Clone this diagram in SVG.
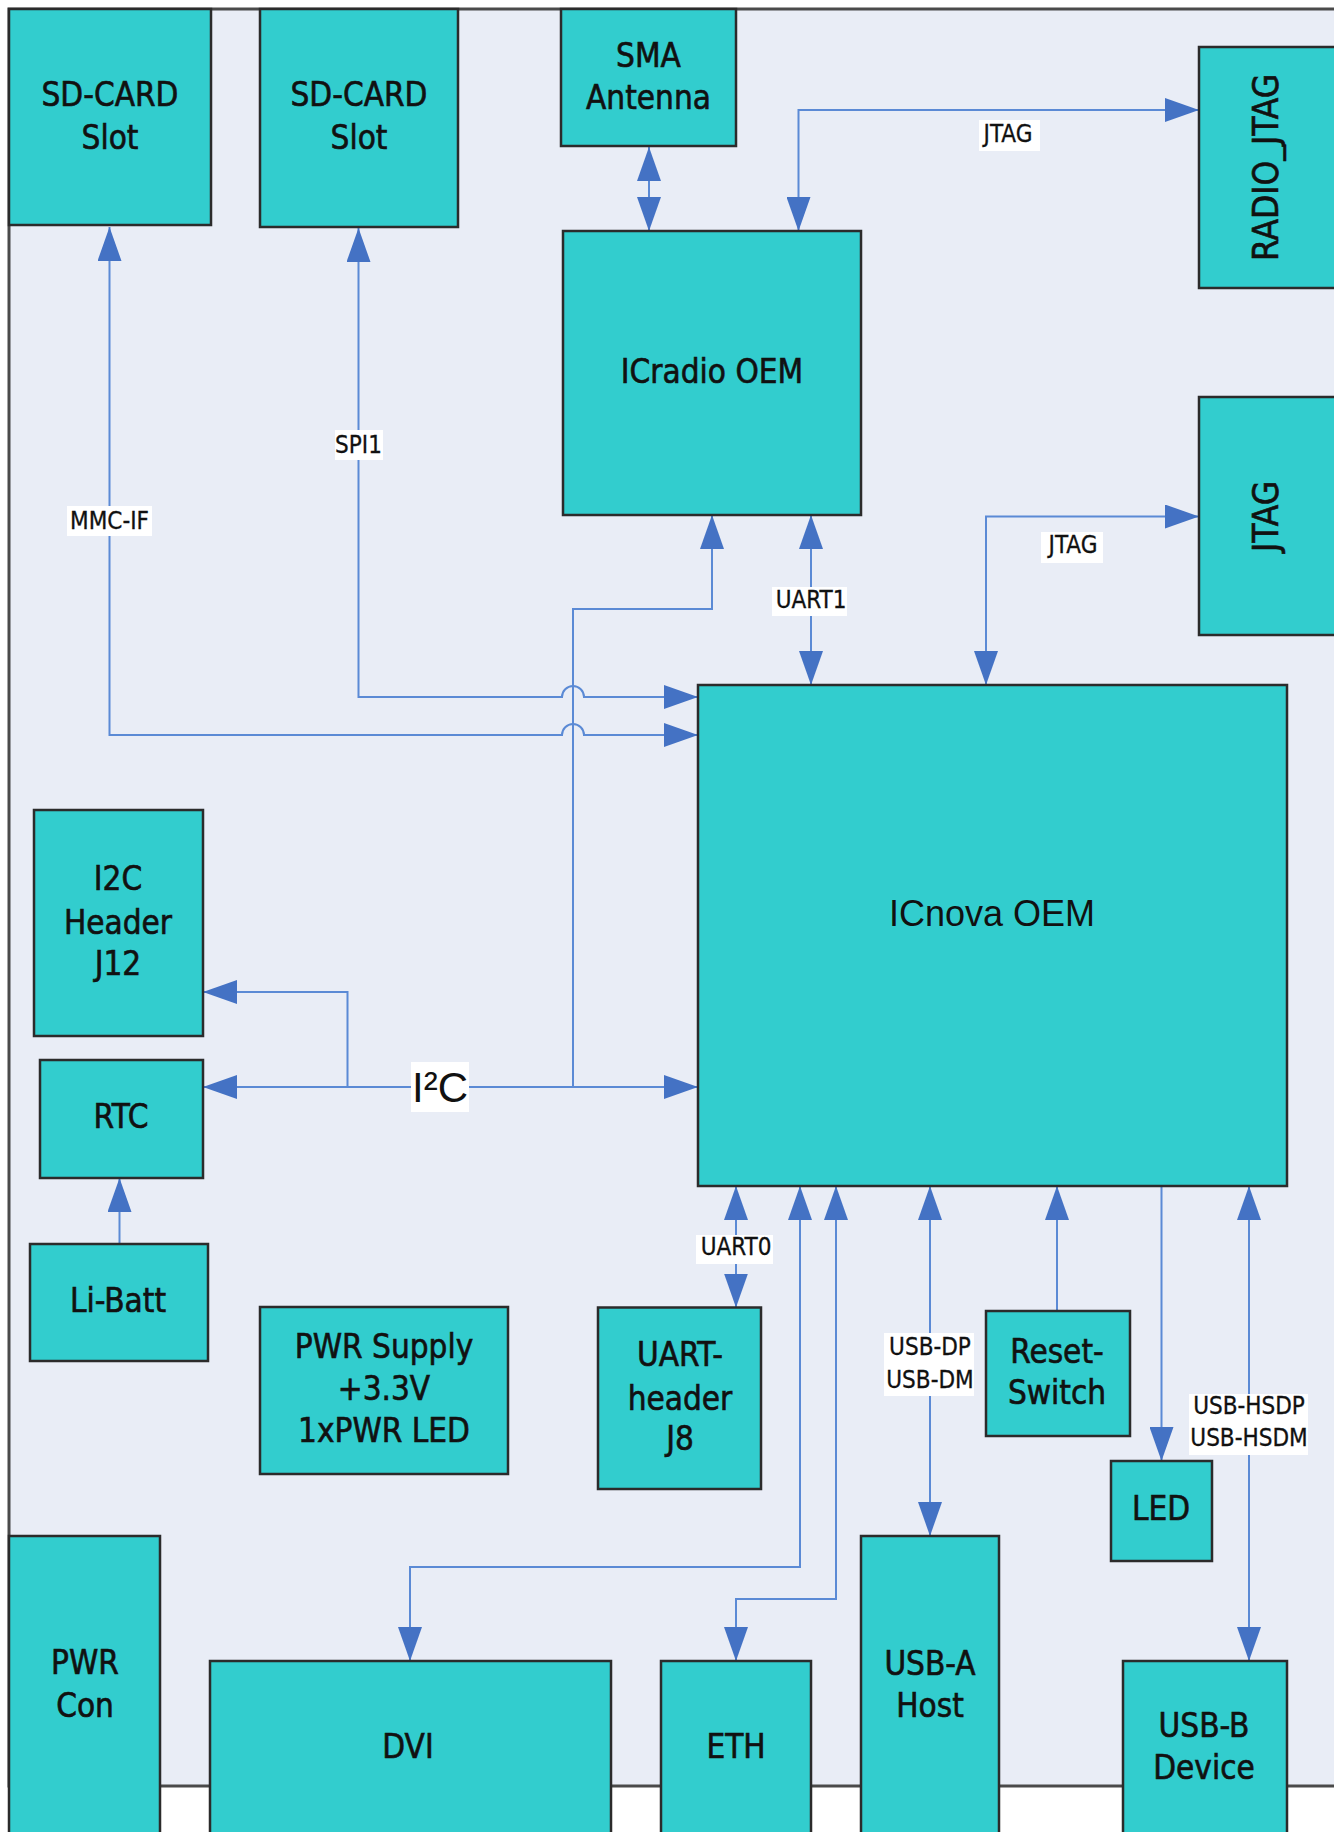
<svg xmlns="http://www.w3.org/2000/svg" width="1334" height="1832" viewBox="0 0 1334 1832">
<style>
.box{fill:#32CDCE;stroke:#2b2b2b;stroke-width:2.5}
.t{font-family:"DejaVu Sans Condensed","DejaVu Sans",sans-serif;font-stretch:condensed;font-size:33px;text-anchor:middle;fill:#111;stroke:#111;stroke-width:0.6}
.r{font-size:35px}
.a{font-family:"Liberation Sans",Arial,sans-serif;font-size:36px;text-anchor:middle;fill:#111}
.c{fill:none;stroke:#5B8AD5;stroke-width:2}
.lb{fill:#fff}
.l{font-family:"DejaVu Sans Condensed","DejaVu Sans",sans-serif;font-stretch:condensed;font-size:24px;text-anchor:middle;fill:#111;stroke:#111;stroke-width:0.3}
.i2c{font-family:"Liberation Sans",Arial,sans-serif;font-size:42px;text-anchor:middle;fill:#111}
</style>
<defs>
<marker id="ah" markerUnits="userSpaceOnUse" markerWidth="34" markerHeight="24" refX="34" refY="12" orient="auto-start-reverse" viewBox="0 0 34 24">
<path d="M0,0 L34,12 L0,24 z" fill="#4472C4"/>
</marker>
</defs>
<rect x="0" y="0" width="1334" height="1832" fill="#fff"/>
<rect x="9" y="9" width="1400" height="1777" fill="#E9EDF6" stroke="#4a4a4a" stroke-width="3"/>

<g id="connectors">
<path class="c" d="M109.5 227 L109.5 735 L562 735 A11 11 0 0 1 584 735 L698 735" marker-start="url(#ah)" marker-end="url(#ah)"/>
<path class="c" d="M358.5 228 L358.5 697 L562 697 A11 11 0 0 1 584 697 L698 697" marker-start="url(#ah)" marker-end="url(#ah)"/>
<path class="c" d="M203 1087 L698 1087" marker-start="url(#ah)" marker-end="url(#ah)"/>
<path class="c" d="M347.5 1087 L347.5 992 L203 992" marker-end="url(#ah)"/>
<path class="c" d="M573 1087 L573 609 L712 609 L712 515" marker-end="url(#ah)"/>
<path class="c" d="M811 515 L811 685" marker-start="url(#ah)" marker-end="url(#ah)"/>
<path class="c" d="M986 685 L986 516.5 L1199 516.5" marker-start="url(#ah)" marker-end="url(#ah)"/>
<path class="c" d="M798.5 231 L798.5 110 L1199 110" marker-start="url(#ah)" marker-end="url(#ah)"/>
<path class="c" d="M649 147 L649 231" marker-start="url(#ah)" marker-end="url(#ah)"/>
<path class="c" d="M119.5 1244 L119.5 1178" marker-end="url(#ah)"/>
<path class="c" d="M736 1186 L736 1307.5" marker-start="url(#ah)" marker-end="url(#ah)"/>
<path class="c" d="M800 1186 L800 1567 L410 1567 L410 1661" marker-start="url(#ah)" marker-end="url(#ah)"/>
<path class="c" d="M836 1186 L836 1599 L736 1599 L736 1661" marker-start="url(#ah)" marker-end="url(#ah)"/>
<path class="c" d="M930 1186 L930 1536" marker-start="url(#ah)" marker-end="url(#ah)"/>
<path class="c" d="M1057 1311 L1057 1186" marker-end="url(#ah)"/>
<path class="c" d="M1161.5 1186 L1161.5 1461" marker-end="url(#ah)"/>
<path class="c" d="M1249 1186 L1249 1661" marker-start="url(#ah)" marker-end="url(#ah)"/>

<rect class="lb" x="67" y="506" width="85" height="30"/>
<text class="l" x="109.5" y="529">MMC-IF</text>
<rect class="lb" x="335" y="430" width="48" height="30"/>
<text class="l" x="358.5" y="453">SPI1</text>
<rect class="lb" x="979" y="120" width="61" height="31"/>
<text class="l" x="1008" y="141.5">JTAG</text>
<rect class="lb" x="1041" y="532" width="62" height="31"/>
<text class="l" x="1073" y="553">JTAG</text>
<rect class="lb" x="772" y="587" width="75" height="29"/>
<text class="l" x="811" y="608">UART1</text>
<rect class="lb" x="411" y="1062" width="58" height="50"/>
<text class="i2c" x="440" y="1102">I²C</text>
<rect class="lb" x="696" y="1235" width="77" height="29"/>
<text class="l" x="736" y="1255">UART0</text>
<rect class="lb" x="884" y="1333" width="90" height="63"/>
<text class="l" x="930" y="1355">USB-DP</text>
<text class="l" x="930" y="1388">USB-DM</text>
<rect class="lb" x="1189" y="1394" width="119" height="61"/>
<text class="l" x="1249" y="1414">USB-HSDP</text>
<text class="l" x="1249" y="1446">USB-HSDM</text>
</g>

<g id="sdcard1"><rect class="box" x="9" y="9" width="202" height="216"/>
<text class="t" x="110" y="105.5">SD-CARD</text><text class="t" x="110" y="149">Slot</text></g>
<g id="sdcard2"><rect class="box" x="260" y="9" width="198" height="218"/>
<text class="t" x="359" y="105.5">SD-CARD</text><text class="t" x="359" y="149">Slot</text></g>
<g id="sma"><rect class="box" x="561" y="9" width="175" height="137"/>
<text class="t" x="648.5" y="67">SMA</text><text class="t" x="648.5" y="109">Antenna</text></g>
<g id="icradio"><rect class="box" x="563" y="231" width="298" height="284"/>
<text class="t" x="712" y="382.5">ICradio OEM</text></g>
<g id="radiojtag"><rect class="box" x="1199" y="47" width="200" height="241"/>
<text class="t r" transform="translate(1277.5 167.5) rotate(-90)">RADIO_JTAG</text></g>
<g id="jtag"><rect class="box" x="1199" y="397" width="200" height="238"/>
<text class="t r" transform="translate(1277.5 516.5) rotate(-90)">JTAG</text></g>
<g id="icnova"><rect class="box" x="698" y="685" width="589" height="501"/>
<text class="a" x="992" y="926">ICnova OEM</text></g>
<g id="i2cheader"><rect class="box" x="34" y="810" width="169" height="226"/>
<text class="t" x="118" y="890">I2C</text><text class="t" x="118" y="934">Header</text><text class="t" x="118" y="975">J12</text></g>
<g id="rtc"><rect class="box" x="40" y="1060" width="163" height="118"/>
<text class="t" x="121" y="1128">RTC</text></g>
<g id="libatt"><rect class="box" x="30" y="1244" width="178" height="117"/>
<text class="t" x="118" y="1312">Li-Batt</text></g>
<g id="pwrsupply"><rect class="box" x="260" y="1307" width="248" height="167"/>
<text class="t" x="384" y="1358">PWR Supply</text><text class="t" x="384" y="1400">+3.3V</text><text class="t" x="384" y="1442">1xPWR LED</text></g>
<g id="uartheader"><rect class="box" x="598" y="1307.5" width="163" height="181.5"/>
<text class="t" x="680" y="1366">UART-</text><text class="t" x="680" y="1410">header</text><text class="t" x="680" y="1450">J8</text></g>
<g id="reset"><rect class="box" x="986" y="1311" width="144" height="125"/>
<text class="t" x="1057" y="1363">Reset-</text><text class="t" x="1057" y="1404">Switch</text></g>
<g id="led"><rect class="box" x="1111" y="1461" width="101" height="100"/>
<text class="t" x="1161" y="1520">LED</text></g>
<g id="pwrcon"><rect class="box" x="9" y="1536" width="151" height="310"/>
<text class="t" x="85" y="1674">PWR</text><text class="t" x="85" y="1717">Con</text></g>
<g id="dvi"><rect class="box" x="210" y="1661" width="401" height="185"/>
<text class="t" x="408" y="1758">DVI</text></g>
<g id="eth"><rect class="box" x="661" y="1661" width="150" height="185"/>
<text class="t" x="736" y="1758">ETH</text></g>
<g id="usba"><rect class="box" x="861" y="1536" width="138" height="310"/>
<text class="t" x="930" y="1675">USB-A</text><text class="t" x="930" y="1717">Host</text></g>
<g id="usbb"><rect class="box" x="1123" y="1661" width="164" height="185"/>
<text class="t" x="1204" y="1737">USB-B</text><text class="t" x="1204" y="1779">Device</text></g>
</svg>
